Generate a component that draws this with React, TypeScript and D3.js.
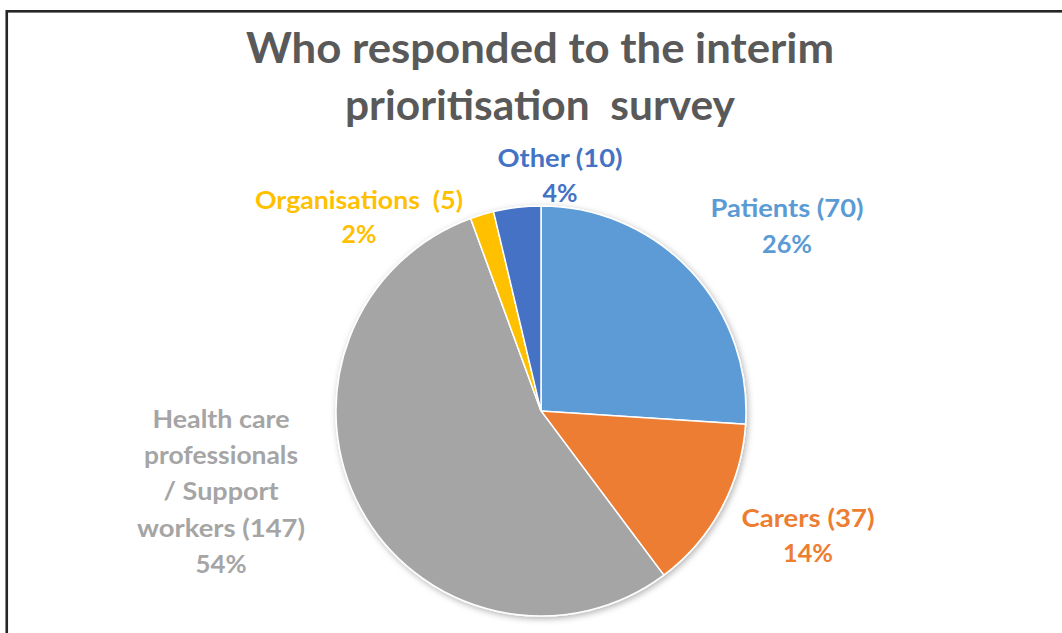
import React from "react";
import * as d3 from "d3";

const categories = ["Patients", "Carers", "Health care professionals / Support workers", "Organisations", "Other"];
const counts = [70, 37, 147, 5, 10];
const labelLines = [
  ["Patients (70)", "26%"],
  ["Carers (37)", "14%"],
  ["Health care", "professionals", "/ Support", "workers (147)", "54%"],
  ["Organisations\u00a0\u00a0(5)", "2%"],
  ["Other (10)", "4%"],
];
const colors = ["#5B9BD5", "#ED7D31", "#A5A5A5", "#FFC000", "#4472C4"];
const titleLines = ["Who responded to the interim", "prioritisation\u00a0\u00a0survey"];

// layout (not data)
const W = 1062;
const H = 633;
const cx = 541;
const cy = 411;
const radius = 205;
const labelAnchors: [number, number][] = [
  [787, 217],
  [808, 527],
  [221, 428],
  [359, 209],
  [560, 167],
];
const lineGap = [36, 35, 36.2, 34, 35];
const lineWidths = [
  [153, 50],
  [133, 50],
  [137, 154, 115, 168, 51],
  [208, 35],
  [125, 35],
];

export default function App() {
  const pie = d3.pie<number>().sort(null).value((d) => d).startAngle(0).endAngle(2 * Math.PI);
  const arcs = pie(counts);
  const arc = d3.arc<d3.PieArcDatum<number>>().innerRadius(0).outerRadius(radius);
  const font = "Lato, 'Open Sans', sans-serif";
  return (
    <div style={{ position: "absolute", left: 0, top: 0 }}>
      <svg width={W} height={H} viewBox={`0 0 ${W} ${H}`} style={{ display: "block", background: "#fff" }}>
        <defs>
          <filter id="shadow" x="-20%" y="-20%" width="140%" height="140%">
            <feDropShadow dx="1.5" dy="2" stdDeviation="3" floodColor="#000" floodOpacity="0.3" />
          </filter>
        </defs>
        <rect x={6.75} y={11.3} width={W + 20} height={H + 20} fill="none" stroke="#262626" strokeWidth={2.6} />
        {titleLines.map((t, i) => (
          <text
            key={i}
            x={540}
            y={63 + i * 57}
            textAnchor="middle"
            fontFamily={font}
            fontWeight={700}
            fontSize={42}
            fill="#595959"
            textLength={i === 0 ? 588 : 390}
            lengthAdjust="spacingAndGlyphs"
          >
            {t}
          </text>
        ))}
        <g transform={`translate(${cx},${cy})`} filter="url(#shadow)">
          {arcs.map((a, i) => (
            <path key={categories[i]} d={arc(a) || ""} fill={colors[i]} stroke="#fff" strokeWidth={1.5} />
          ))}
        </g>
        {labelLines.map((lines, i) =>
          lines.map((l, j) => (
            <text
              key={`${i}-${j}`}
              x={labelAnchors[i][0]}
              y={labelAnchors[i][1] + j * lineGap[i]}
              textAnchor="middle"
              fontFamily={font}
              fontWeight={700}
              fontSize={25}
              fill={colors[i]}
              textLength={lineWidths[i][j]}
              lengthAdjust="spacingAndGlyphs"
            >
              {l}
            </text>
          ))
        )}
      </svg>
    </div>
  );
}
